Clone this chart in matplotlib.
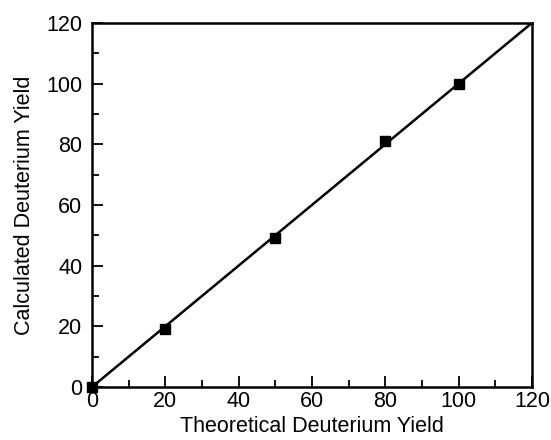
import numpy as np
import matplotlib.pyplot as plt
from matplotlib.ticker import MultipleLocator

theoretical = [0, 20, 50, 80, 100]
calculated = [0, 19, 49, 81, 100]
line_x = [0, 120]
line_y = [0, 120]

plt.rcParams['font.family'] = ['Liberation Sans', 'DejaVu Sans']

fig = plt.figure(figsize=(5.51, 4.40), dpi=100)
ax = fig.add_axes([0.167, 0.1205, 0.7985, 0.8275])

ax.plot(line_x, line_y, color='black', linewidth=1.8)
ax.plot(theoretical, calculated, 's', color='black', markersize=6.5, clip_on=False)

ax.set_xlim(0, 120)
ax.set_ylim(0, 120)
ax.xaxis.set_major_locator(MultipleLocator(20))
ax.yaxis.set_major_locator(MultipleLocator(20))
ax.xaxis.set_minor_locator(MultipleLocator(10))
ax.yaxis.set_minor_locator(MultipleLocator(10))
ax.tick_params(which='both', direction='in', top=False, right=False, labelsize=15.5, width=1.3)
ax.tick_params(which='major', length=8)
ax.tick_params(which='minor', length=5)
ax.tick_params(axis='y', which='major', pad=7)
ax.tick_params(axis='x', which='major', pad=3)
for s in ax.spines.values():
    s.set_linewidth(1.8)

ax.set_xlabel('Theoretical Deuterium Yield', fontsize=15.5, labelpad=3)
ax.set_ylabel('Calculated Deuterium Yield', fontsize=15.5, labelpad=8)

fig.savefig('out.png', dpi=100)
